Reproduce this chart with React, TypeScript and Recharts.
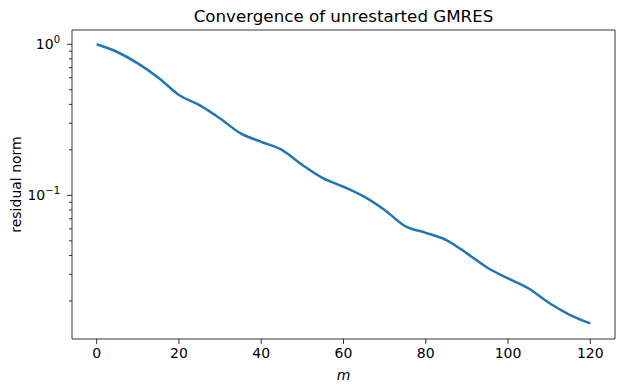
import { LineChart, Line, XAxis, YAxis, ReferenceArea, Label } from "recharts";

// iteration count m and residual norm
const iterations = [0, 5, 10, 15, 20, 25, 30, 35, 40, 45, 50, 55, 60, 65, 70, 75, 80, 85, 90, 95, 100, 105, 110, 115, 120];
const residuals = [
  1.0, 0.889, 0.748, 0.601, 0.462, 0.396, 0.323, 0.257, 0.226, 0.2, 0.159, 0.13, 0.114,
  0.098, 0.08, 0.0626, 0.0565, 0.0506, 0.0413, 0.0332, 0.0282, 0.0242, 0.0194, 0.0162, 0.0142,
];

const xTicks = [0, 20, 40, 60, 80, 100, 120];
const yMajorTicks = [0.1, 1];
const yMinorTicks = [0.02, 0.03, 0.04, 0.05, 0.06, 0.07, 0.08, 0.09, 0.2, 0.3, 0.4, 0.5, 0.6, 0.7, 0.8, 0.9];
const yExponentLabels = ["−1", "0"];

const X_DOMAIN: [number, number] = [-6, 126];
const Y_DOMAIN: [number, number] = [0.0112, 1.243];

const FONT = "'DejaVu Sans', sans-serif";
const LINE_COLOR = "#1f77b4";

const data = iterations.map((m, i) => ({ m, residual: residuals[i] }));
const allYTicks = [...yMinorTicks, ...yMajorTicks].sort((a, b) => a - b);

function LogTick(props: any) {
  const { x, y, payload } = props;
  const value = payload.value;
  const majorIndex = yMajorTicks.indexOf(value);
  const isMajor = majorIndex >= 0;
  const axisX = x + 12; // tickSize + tickMargin
  return (
    <g>
      <line
        x1={axisX - (isMajor ? 5 : 3)}
        x2={axisX}
        y1={y}
        y2={y}
        stroke="#000"
        strokeWidth={0.8}
      />
      {isMajor && (
        <text x={x} y={y + 5} textAnchor="end" fontFamily={FONT} fontSize={14} fill="#000">
          10
          <tspan dy={-6} fontSize={10}>
            {yExponentLabels[majorIndex]}
          </tspan>
        </text>
      )}
    </g>
  );
}

export default function App() {
  return (
    <div style={{ position: "absolute", left: 0, top: 0, width: 624, height: 391, background: "#fff" }}>
      <LineChart
        width={624}
        height={391}
        data={data}
        margin={{ top: 30, right: 9, bottom: 0, left: 0 }}
      >
        <XAxis
          dataKey="m"
          type="number"
          domain={X_DOMAIN}
          ticks={xTicks}
          allowDataOverflow
          height={52}
          axisLine={false}
          tickSize={5}
          tickMargin={4}
          tickLine={{ stroke: "#000", strokeWidth: 0.8 }}
          tick={{ fill: "#000", fontSize: 14, fontFamily: FONT }}
        >
          <Label
            content={({ viewBox }: any) => (
              <text
                x={viewBox.x + viewBox.width / 2}
                y={viewBox.y + 41}
                textAnchor="middle"
                fontFamily={FONT}
                fontStyle="italic"
                fontSize={14}
                fill="#000"
              >
                m
              </text>
            )}
          />
        </XAxis>
        <YAxis
          type="number"
          scale="log"
          domain={Y_DOMAIN}
          ticks={allYTicks}
          allowDataOverflow
          interval={0}
          width={72}
          axisLine={false}
          tickLine={false}
          tickSize={5}
          tickMargin={7}
          tick={<LogTick />}
        >
          <Label
            content={({ viewBox }: any) => (
              <text
                x={21}
                y={viewBox.y + viewBox.height / 2}
                transform={`rotate(-90, 21, ${viewBox.y + viewBox.height / 2})`}
                textAnchor="middle"
                fontFamily={FONT}
                fontSize={14}
                fill="#000"
              >
                residual norm
              </text>
            )}
          />
        </YAxis>
        <ReferenceArea
          x1={X_DOMAIN[0]}
          x2={X_DOMAIN[1]}
          y1={Y_DOMAIN[0]}
          y2={Y_DOMAIN[1]}
          fill="none"
          fillOpacity={0}
          stroke="#000"
          strokeWidth={0.8}
          ifOverflow="visible"
        />
        <Line
          type="monotone"
          dataKey="residual"
          stroke={LINE_COLOR}
          strokeWidth={2.5}
          dot={false}
          isAnimationActive={false}
        />
      </LineChart>
      <svg
        width={624}
        height={40}
        style={{ position: "absolute", left: 0, top: 0, pointerEvents: "none" }}
      >
        <text x={343.5} y={21.5} textAnchor="middle" fontFamily={FONT} fontSize={16.7} fill="#000">
          Convergence of unrestarted GMRES
        </text>
      </svg>
    </div>
  );
}
